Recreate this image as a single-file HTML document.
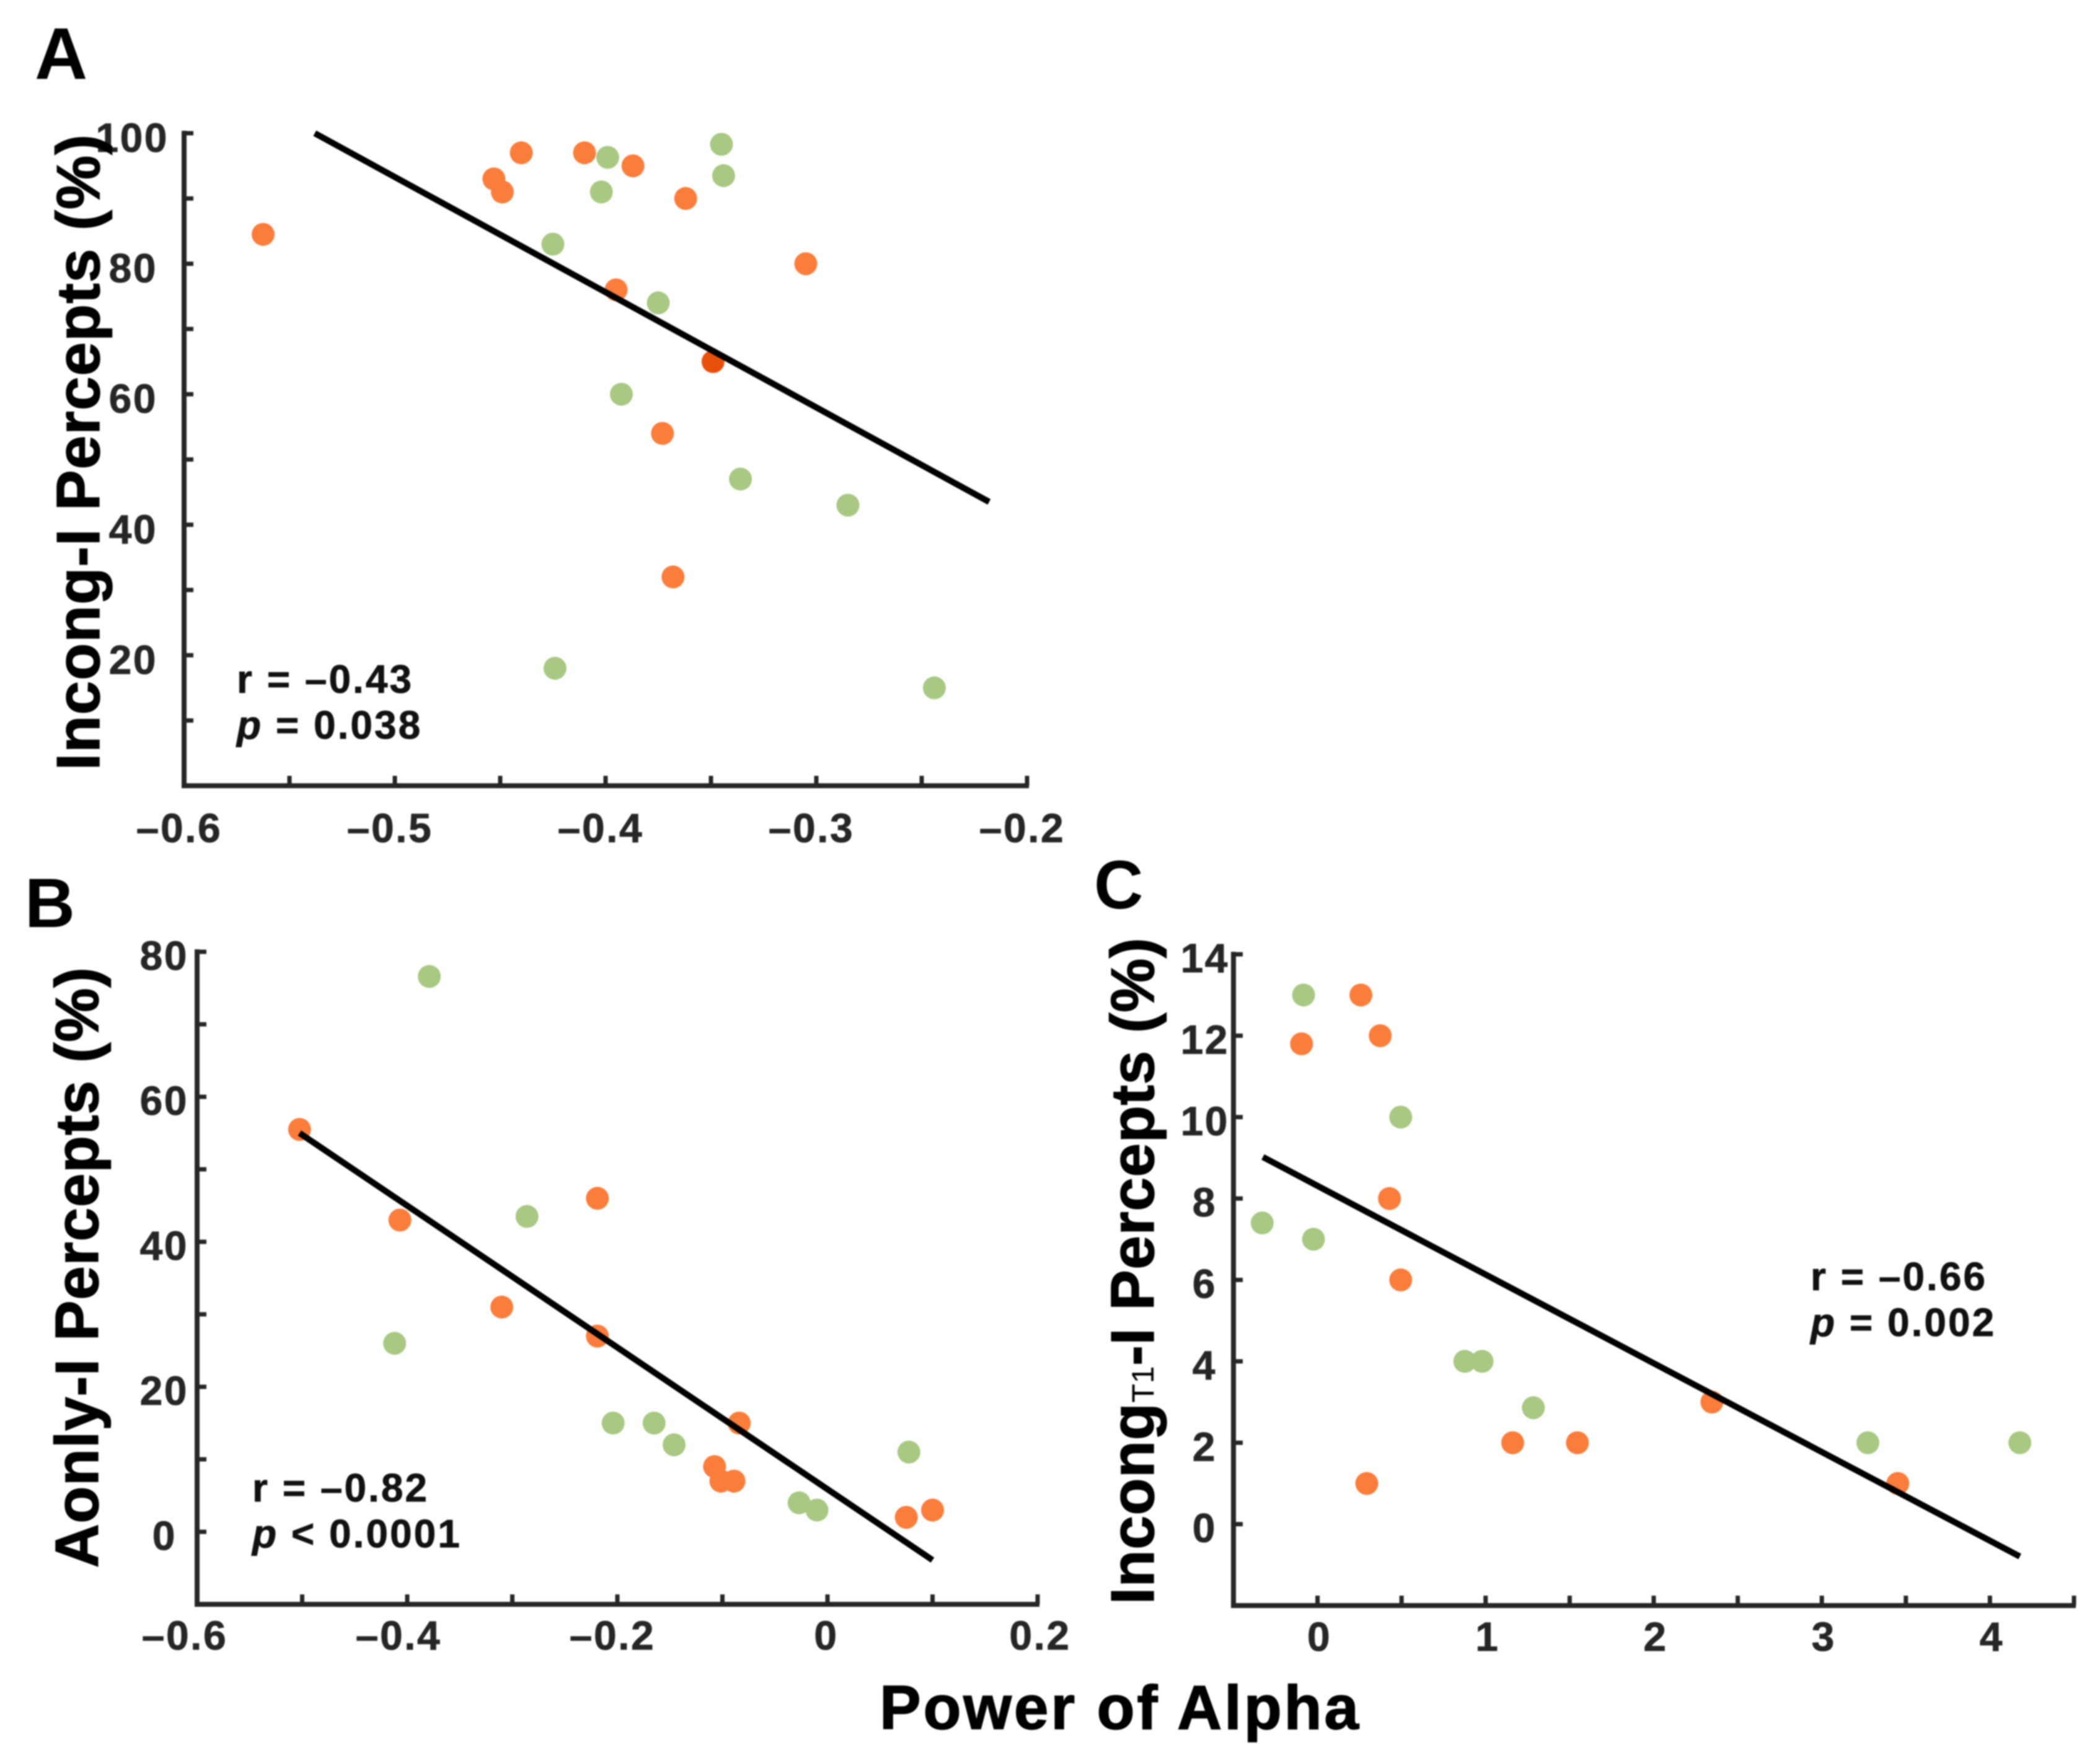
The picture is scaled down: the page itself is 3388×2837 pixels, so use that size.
<!DOCTYPE html>
<html>
<head>
<meta charset="utf-8">
<style>
html,body{margin:0;padding:0;background:#fff}
svg{display:block;filter:blur(1.1px)}
text{font-family:"Liberation Sans",sans-serif;font-weight:bold}
.tick{font-size:66px;fill:#262626;letter-spacing:2.5px;stroke:#262626;stroke-width:0.8px}
.stat{font-size:64px;fill:#111;letter-spacing:3px;stroke:#111;stroke-width:0.8px}
.title{font-size:98px;fill:#000;stroke:#000;stroke-width:1.5px}
.panel{fill:#000}
</style>
</head>
<body>
<svg id="figure" xmlns="http://www.w3.org/2000/svg" width="3388" height="2837" viewBox="0 0 3388 2837">
<rect width="3388" height="2837" fill="#fff"/>
<g id="panelA"></g>
<g id="panelB"></g>
<g id="panelC"></g>

<text class="panel" font-size="118" x="56" y="127">A</text>
<text class="panel" font-size="112" x="40" y="1496">B</text>
<text class="panel" font-size="110" x="1765" y="1466">C</text>

<text class="title" transform="translate(160,1243) rotate(-90)" textLength="1026">Incong-I Percepts (%)</text>
<text class="title" transform="translate(158,2530) rotate(-90)" textLength="969">Aonly-I Percepts (%)</text>
<text class="title" transform="translate(1861,2589) rotate(-90)" letter-spacing="0.7">Incong<tspan font-size="50" font-weight="normal" stroke-width="0">T1</tspan>-I Percepts (%)</text>
<text class="title" x="1419" y="2790" style="font-size:100px" textLength="773">Power of Alpha</text>

<text class="stat" x="382" y="1118">r = –0.43</text>
<text class="stat" x="382" y="1192"><tspan font-style="italic">p</tspan> = 0.038</text>
<text class="stat" x="407" y="2423">r = –0.82</text>
<text class="stat" x="407" y="2497"><tspan font-style="italic">p</tspan> &lt; 0.0001</text>
<text class="stat" x="2921" y="2082">r = –0.66</text>
<text class="stat" x="2921" y="2156"><tspan font-style="italic">p</tspan> = 0.002</text>
</svg>
<script>
// Panel A data
const aOrangeX = [-0.5625,-0.453,-0.449,-0.440,-0.410,-0.387,-0.362,-0.305,-0.395,-0.373,-0.368];
const aOrangeY = [84.5,93,91,97,97,95,90,80,76,54,32];
const aDarkX = [-0.349];
const aDarkY = [65];
const aGreenX = [-0.345,-0.399,-0.344,-0.402,-0.425,-0.375,-0.3925,-0.336,-0.285,-0.424,-0.244];
const aGreenY = [98.3,96.3,93.5,91,83,74,60,47,43,18,15];
const aFitX = [-0.538,-0.218];
const aFitY = [100,43.5];
const aXTicks = [-0.6,-0.55,-0.5,-0.45,-0.4,-0.35,-0.3,-0.25,-0.2];
const aYTicks = [100,90,80,70,60,50,40,30,20,10];
const aXLabelValues = [-0.6,-0.5,-0.4,-0.3,-0.2];
const aXLabels = ['–0.6','–0.5','–0.4','–0.3','–0.2'];
const aYLabelValues = [100,80,60,40,20];
const aYLabels = ['100','80','60','40','20'];

// Panel B data
const bOrangeX = [-0.5025,-0.407,-0.310,-0.219,-0.219,-0.084,-0.1075,-0.1015,-0.089,0.075,0.1];
const bOrangeY = [55.5,43,31,46,27,15,9,7,7,2,3];
const bGreenX = [-0.379,-0.286,-0.412,-0.204,-0.165,-0.146,-0.027,-0.01,0.0775];
const bGreenY = [76.6,43.5,26,15,15,12,4,3,11];
const bFitX = [-0.5025,0.1];
const bFitY = [55,-3.9];
const bXTicks = [-0.6,-0.5,-0.4,-0.3,-0.2,-0.1,0,0.1,0.2];
const bYTicks = [80,70,60,50,40,30,20,10,0];
const bXLabelValues = [-0.6,-0.4,-0.2,0,0.2];
const bXLabels = ['–0.6','–0.4','–0.2','0','0.2'];
const bYLabelValues = [80,60,40,20,0];
const bYLabels = ['80','60','40','20','0'];

// Panel C data
const cOrangeX = [0.258,0.373,-0.095,0.428,0.495,0.293,1.161,1.546,2.346,3.452];
const cOrangeY = [13,12,11.8,8,6,1,2,2,3,1];
const cGreenX = [-0.083,0.495,-0.329,-0.024,0.876,0.979,1.284,3.274,4.178];
const cGreenY = [13,10,7.4,7,4,4,2.86,2,2];
const cFitX = [-0.325,4.178];
const cFitY = [9.02,-0.795];
const cXTicks = [0,0.5,1,1.5,2,2.5,3,3.5,4,4.5];
const cYTicks = [14,12,10,8,6,4,2,0];
const cXLabelValues = [0,1,2,3,4];
const cXLabels = ['0','1','2','3','4'];
const cYLabelValues = [14,12,10,8,6,4,2,0];
const cYLabels = ['14','12','10','8','6','4','2','0'];

const NS = 'http://www.w3.org/2000/svg';
const ORANGE = '#fb7d3b';
const DARK = '#e8500a';
const GREEN = '#a9c883';
const AXIS = '#262626';

function linear(d0, d1, r0, r1) {
  return v => r0 + (v - d0) / (d1 - d0) * (r1 - r0);
}
function mk(tag, attrs, parent) {
  const el = document.createElementNS(NS, tag);
  for (const k in attrs) el.setAttribute(k, attrs[k]);
  parent.appendChild(el);
  return el;
}
function drawAxes(g, prefix, sx, sy, xDom, yDom, xTicks, yTicks) {
  const yLine = mk('line', {x1: sx(xDom[0]), x2: sx(xDom[0]), y1: sy(yDom[1]) - 4, y2: sy(yDom[0]) + 4, stroke: AXIS, 'stroke-width': 8}, g);
  
  
  const xLine = mk('line', {x1: sx(xDom[0]) - 4, x2: sx(xDom[1]) + 3, y1: sy(yDom[0]), y2: sy(yDom[0]), stroke: AXIS, 'stroke-width': 8}, g);
  
  
  xTicks.forEach(v => {
    const t = mk('line', {x1: sx(v), x2: sx(v), y1: sy(yDom[0]), y2: sy(yDom[0]) - 16, stroke: AXIS, 'stroke-width': 7}, g);
    
    
  });
  yTicks.forEach(v => {
    const t = mk('line', {x1: sx(xDom[0]), x2: sx(xDom[0]) + 15, y1: sy(v), y2: sy(v), stroke: AXIS, 'stroke-width': 7}, g);
    
    
  });
}
function drawXLabels(g, prefix, sx, values, labels, baseline, offset) {
  values.forEach((v, i) => {
    const t = mk('text', {class: 'tick', x: sx(v) + offset(v), y: baseline, 'text-anchor': 'middle'}, g);
    t.textContent = labels[i];
    
    
  });
}
function drawYLabels(g, prefix, sy, values, labels, right, dy) {
  values.forEach((v, i) => {
    const t = mk('text', {class: 'tick', x: right(labels[i]), y: sy(v) + dy, 'text-anchor': 'end'}, g);
    t.textContent = labels[i];
    
    
  });
}
function drawPoints(g, prefix, sx, sy, xs, ys, color) {
  xs.forEach((x, i) => {
    const c = mk('circle', {cx: sx(x), cy: sy(ys[i]), r: 18.5, fill: color}, g);
    
    
  });
}
function drawFit(g, prefix, sx, sy, xs, ys) {
  const l = mk('line', {x1: sx(xs[0]), y1: sy(ys[0]), x2: sx(xs[1]), y2: sy(ys[1]), stroke: '#000', 'stroke-width': 10}, g);
  
  
}

// Panel A
{
  const g = document.getElementById('panelA');
  const sx = linear(-0.6, -0.2, 297, 1657);
  const sy = linear(0, 100, 1268, 215);
  drawAxes(g, 'panel-a', sx, sy, [-0.6, -0.2], [0, 100], aXTicks, aYTicks);
  drawXLabels(g, 'panel-a', sx, aXLabelValues, aXLabels, 1359, () => -8);
  drawYLabels(g, 'panel-a', sy, aYLabelValues, aYLabels, l => l === '100' ? 272 : 254, 30);
  drawPoints(g, 'panel-a-orange', sx, sy, aOrangeX, aOrangeY, ORANGE);
  drawPoints(g, 'panel-a-dark-orange', sx, sy, aDarkX, aDarkY, DARK);
  drawPoints(g, 'panel-a-green', sx, sy, aGreenX, aGreenY, GREEN);
  drawFit(g, 'panel-a', sx, sy, aFitX, aFitY);
}
// Panel B
{
  const g = document.getElementById('panelB');
  const sx = linear(-0.6, 0.2, 318, 1674);
  const sy = linear(-10, 80, 2589, 1536);
  drawAxes(g, 'panel-b', sx, sy, [-0.6, 0.2], [-10, 80], bXTicks, bYTicks);
  drawXLabels(g, 'panel-b', sx, bXLabelValues, bXLabels, 2662, v => -20 + (v + 0.6) / 0.8 * 24);
  drawYLabels(g, 'panel-b', sy, bYLabelValues, bYLabels, l => l === '0' ? 285 : 304, 29);
  drawPoints(g, 'panel-b-orange', sx, sy, bOrangeX, bOrangeY, ORANGE);
  drawPoints(g, 'panel-b-green', sx, sy, bGreenX, bGreenY, GREEN);
  drawFit(g, 'panel-b', sx, sy, bFitX, bFitY);
}
// Panel C
{
  const g = document.getElementById('panelC');
  const sx = linear(-0.5, 4.5, 1990, 3346);
  const sy = linear(-2, 14, 2591, 1540);
  drawAxes(g, 'panel-c', sx, sy, [-0.5, 4.5], [-2, 14], cXTicks, cYTicks);
  drawXLabels(g, 'panel-c', sx, cXLabelValues, cXLabels, 2664, () => 3);
  drawYLabels(g, 'panel-c', sy, cYLabelValues, cYLabels, l => l.length === 2 ? 1983 : 1963, 29);
  drawPoints(g, 'panel-c-orange', sx, sy, cOrangeX, cOrangeY, ORANGE);
  drawPoints(g, 'panel-c-green', sx, sy, cGreenX, cGreenY, GREEN);
  drawFit(g, 'panel-c', sx, sy, cFitX, cFitY);
}
</script>
</body>
</html>
